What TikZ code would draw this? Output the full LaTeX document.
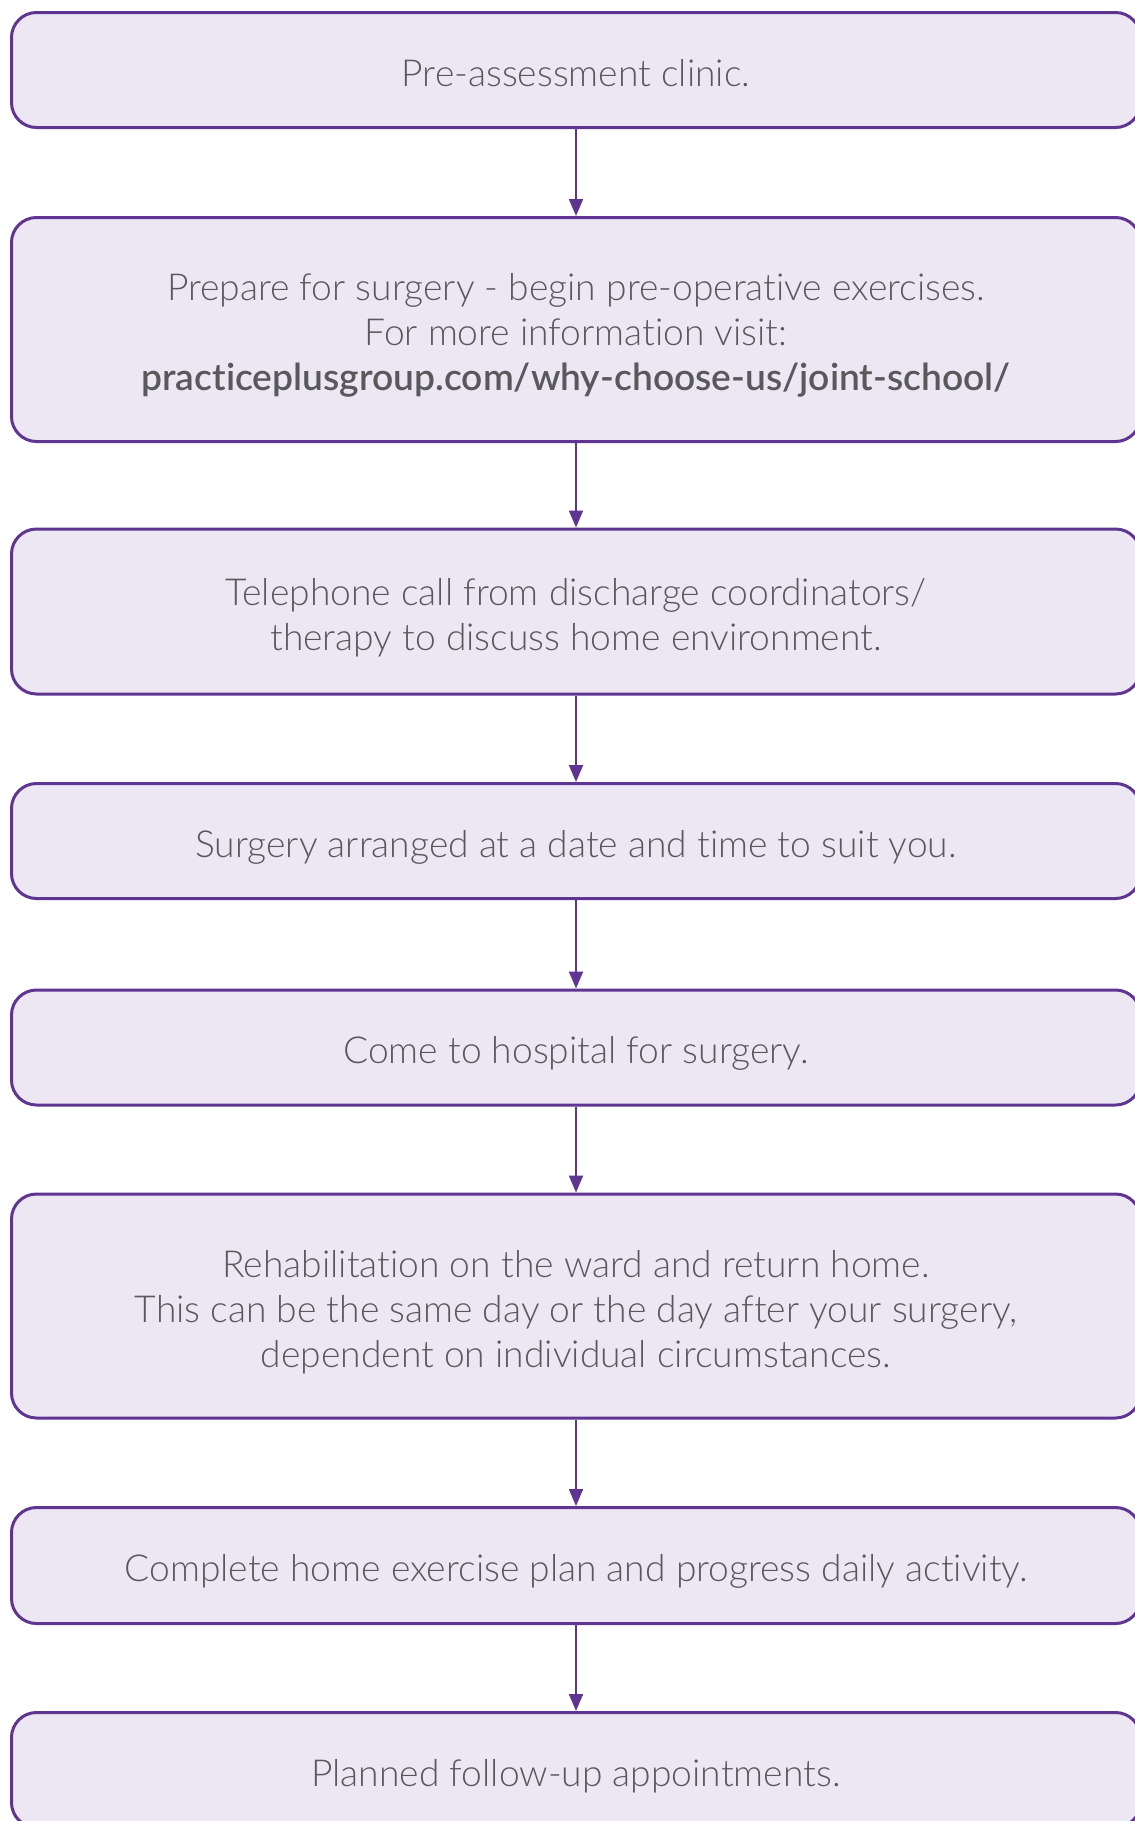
\documentclass[tikz,border=0pt]{standalone}
\usepackage{fontspec}
\setmainfont{Lato}[UprightFont=* Light, BoldFont=* Semibold,
  Ligatures=NoCommon]
\usetikzlibrary{arrows.meta}

\definecolor{steppurple}{RGB}{96,52,145}
\definecolor{stepfill}{RGB}{237,231,244}
\definecolor{stepgray}{RGB}{88,89,91}

% fixed first-line height and last-line depth, so text sits alike in every box
\newcommand{\steptop}{\vrule width 0pt height 20.3pt depth 0pt}
\newcommand{\stepbot}{\vrule width 0pt height 0pt depth 4pt}

\begin{document}
\begin{tikzpicture}[x=0.5pt,y=-0.5pt,
    every node/.style={align=center,text=stepgray,
      font=\fontsize{18.6}{22.5}\selectfont},
    stepbox/.style={draw=steppurple,fill=stepfill,line width=1.5pt,
      rounded corners=12.5pt,inner sep=0pt,minimum width=564.5pt},
    flow/.style={draw=steppurple,line width=1pt,
      -{Triangle[width=7pt,length=8.5pt]}}]

    % Page frame
    \path[use as bounding box] (0,0) rectangle (1135,1821);

    % Steps
    \node[stepbox,minimum height=57.5pt]  (clinic)  at (576,70)
      {\steptop Pre-assessment clinic.\stepbot};
    \node[stepbox,minimum height=112pt]   (prepare) at (576,329.5)
      {\steptop Prepare for surgery - begin pre-operative exercises.\\
       For more information visit:\\
       \textbf{practiceplusgroup.com/why-choose-us/joint-school/}\stepbot};
    \node[stepbox,minimum height=82.5pt]  (call)    at (576,611.5)
      {\steptop Telephone call from discharge coordinators/\\
       therapy to discuss home environment.\stepbot};
    \node[stepbox,minimum height=57.5pt]  (arrange) at (576,841)
      {\steptop Surgery arranged at a date and time to suit you.\stepbot};
    \node[stepbox,minimum height=57.5pt]  (come)    at (576,1047.5)
      {\steptop Come to hospital for surgery.\stepbot};
    \node[stepbox,minimum height=112pt]   (rehab)   at (576,1306)
      {\steptop Rehabilitation on the ward and return home.\\
       This can be the same day or the day after your surgery,\\
       dependent on individual circumstances.\stepbot};
    \node[stepbox,minimum height=58pt]    (plan)    at (576,1565.5)
      {\steptop Complete home exercise plan and progress daily activity.\stepbot};
    \node[stepbox,minimum height=57.5pt]  (follow)  at (576,1770)
      {\steptop Planned follow-up appointments.\stepbot};

    % Connectors
    \draw[flow] (clinic)  -- (prepare);
    \draw[flow] (prepare) -- (call);
    \draw[flow] (call)    -- (arrange);
    \draw[flow] (arrange) -- (come);
    \draw[flow] (come)    -- (rehab);
    \draw[flow] (rehab)   -- (plan);
    \draw[flow] (plan)    -- (follow);

  \end{tikzpicture}
\end{document}
